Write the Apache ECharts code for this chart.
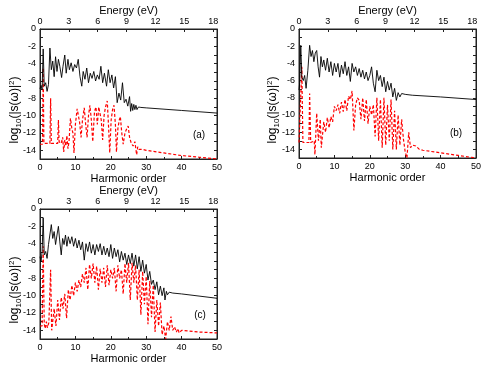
<!DOCTYPE html>
<html><head><meta charset="utf-8">
<script src="https://cdn.jsdelivr.net/npm/echarts@6/dist/echarts.min.js"></script>
<style>html,body{margin:0;padding:0;background:#fff}#c{width:495px;height:380px}</style>
</head><body><div id="c"></div>
<script>
// ---- data: [harmonic order, log10(|s(w)|^2)] ----
const blackA = [[0,-6.9],[0.3,-6.5],[0.6,-7.0],[0.9,-2.3],[1.2,-6.6],[1.6,-6.2],[2.0,-7.2],[2.4,-6.4],[2.8,-2.2],[3.2,-4.7],[3.6,-3.7],[4.0,-5.5],[4.4,-3.2],[4.8,-4.9],[5.2,-3.5],[5.6,-4.3],[6.1,-5.6],[6.5,-4.3],[7.0,-3.0],[7.4,-5.1],[7.9,-3.5],[8.3,-4.7],[8.8,-3.9],[9.3,-4.9],[9.8,-4.1],[10.3,-4.5],[10.8,-3.5],[11.3,-5.5],[11.8,-6.6],[12.2,-4.9],[12.7,-5.8],[13.2,-4.5],[13.7,-6.2],[14.2,-5.1],[14.7,-5.7],[15.2,-4.9],[15.7,-6.0],[16.2,-5.3],[16.7,-5.8],[17.2,-4.3],[17.7,-6.2],[18.2,-5.1],[18.8,-6.6],[19.3,-4.7],[19.8,-6.2],[20.3,-5.3],[20.8,-6.8],[21.3,-5.5],[21.8,-8.5],[22.3,-7.4],[22.8,-8.2],[23.3,-6.2],[23.8,-8.5],[24.3,-8.1],[24.8,-8.9],[25.3,-7.8],[25.6,-9.5],[25.9,-8.6],[26.2,-9.4],[26.5,-8.7],[26.8,-9.3],[27.1,-8.8],[27.4,-9.3],[27.8,-9.0],[28.5,-9.05],[30,-9.1],[40,-9.4],[50,-9.7]];
const redA = [[0,-13.3],[0.7,-13.3],[0.9,-4.5],[1.1,-13.2],[2.8,-13.2],[3.0,-8.0],[3.2,-13.2],[5.0,-13.2],[5.2,-10.5],[5.4,-13.0],[6.0,-13.2],[6.4,-12.5],[6.7,-14.2],[7.0,-12.8],[7.3,-13.5],[7.6,-12.3],[7.9,-13.8],[8.2,-13.0],[8.6,-10.3],[9.0,-11.5],[9.3,-12.0],[9.6,-14.3],[10.0,-11.0],[10.5,-9.2],[10.8,-9.0],[11.2,-10.8],[11.6,-12.5],[12.0,-10.5],[12.5,-9.1],[12.9,-11.0],[13.3,-12.5],[13.7,-10.0],[14.1,-8.8],[14.5,-10.5],[14.9,-13.0],[15.4,-9.5],[15.8,-9.0],[16.2,-11.0],[16.6,-9.0],[16.9,-8.8],[17.3,-10.5],[17.7,-12.8],[18.1,-10.0],[18.5,-9.0],[19.0,-8.3],[19.4,-11.5],[19.7,-14.3],[20.1,-10.5],[20.5,-9.3],[20.9,-8.8],[21.3,-11.0],[21.6,-14.2],[22.0,-11.5],[22.4,-10.5],[22.7,-10.1],[23.1,-12.0],[23.5,-13.3],[24.0,-12.0],[24.5,-11.5],[24.9,-11.2],[25.3,-12.5],[25.8,-13.2],[26.3,-13.5],[26.8,-13.0],[27.0,-12.8],[27.3,-14.5],[27.6,-13.6],[28.0,-13.9],[28.5,-13.7],[29,-13.9],[30,-14.0],[35,-14.3],[40,-14.6],[45,-14.8],[50,-15.0]];

const blackB = [[0,-7.1],[0.2,-6.2],[0.5,-1.9],[0.8,-5.6],[1.2,-6.0],[1.6,-5.4],[2.0,-6.9],[2.5,-4.8],[3.0,-1.9],[3.4,-3.2],[3.8,-2.5],[4.2,-3.8],[4.6,-2.8],[5.0,-2.5],[5.4,-4.4],[5.8,-5.6],[6.2,-3.2],[6.6,-4.4],[7.0,-3.6],[7.5,-4.8],[8.0,-3.4],[8.5,-5.0],[9.0,-3.8],[9.5,-5.4],[10.0,-4.0],[10.5,-5.0],[11.0,-4.0],[11.5,-5.6],[12.0,-4.2],[12.5,-5.2],[13.0,-3.8],[13.5,-5.4],[14.0,-4.4],[14.5,-6.1],[15.0,-4.0],[15.5,-5.0],[16.0,-4.4],[16.5,-5.4],[17.0,-4.6],[17.5,-5.6],[18.0,-4.8],[18.5,-5.8],[19.0,-5.0],[19.5,-6.0],[20.0,-5.4],[20.5,-4.4],[21.0,-6.3],[21.5,-7.3],[22.0,-4.8],[22.5,-6.0],[23.0,-5.4],[23.5,-6.7],[24.0,-5.6],[24.5,-7.3],[25.0,-6.1],[25.5,-7.1],[26.0,-6.3],[26.5,-7.9],[27.0,-6.9],[27.5,-8.3],[28.0,-7.4],[28.5,-7.9],[29.0,-7.5],[29.5,-7.7],[30,-7.6],[32,-7.7],[40,-7.9],[50,-8.2]];
const redB = [[0,-13.2],[0.5,-13.2],[0.8,-4.4],[1.1,-13.2],[2.8,-13.2],[3.0,-7.5],[3.3,-13.2],[4.3,-13.0],[4.5,-14.6],[5.0,-9.8],[5.5,-13.0],[6.0,-10.5],[6.3,-13.8],[7.0,-10.8],[7.5,-12.0],[8.0,-10.3],[8.5,-11.5],[9.0,-10.2],[9.5,-10.8],[10.0,-9.0],[10.5,-9.5],[11.0,-8.8],[11.5,-9.8],[12.0,-8.5],[12.5,-9.6],[13.0,-8.2],[13.5,-9.5],[14.0,-7.8],[14.5,-8.2],[15.0,-7.2],[15.5,-11.8],[16.0,-8.8],[16.5,-8.0],[17.0,-8.3],[17.5,-10.5],[18.0,-8.0],[18.5,-10.7],[19.0,-8.2],[19.5,-11.0],[20.0,-9.0],[20.5,-10.0],[21.0,-8.8],[21.5,-12.5],[22.0,-8.0],[22.5,-13.0],[23.0,-8.2],[23.5,-13.8],[24.0,-8.0],[24.5,-13.5],[25.0,-8.8],[25.5,-13.0],[26.0,-8.2],[26.5,-14.0],[27.0,-9.5],[27.5,-14.0],[28.0,-10.0],[28.5,-13.5],[29.0,-10.5],[29.5,-12.8],[30.0,-14.3],[30.5,-15.0],[31.0,-12.0],[31.5,-13.8],[32.0,-13.5],[33.0,-13.6],[34.0,-14.0],[35.0,-14.1],[40,-14.4],[45,-14.7],[50,-15.0]];

const blackC = [[0,-5.5],[0.3,-6.1],[0.6,-4.9],[0.9,-1.0],[1.2,-5.3],[1.6,-4.9],[2.0,-5.7],[2.4,-4.1],[2.8,-4.0],[3.2,-1.8],[3.6,-3.4],[4.0,-2.6],[4.4,-4.1],[4.8,-3.0],[5.2,-2.0],[5.6,-3.8],[6.0,-5.3],[6.4,-3.4],[6.8,-4.1],[7.2,-3.0],[7.6,-4.3],[8.0,-3.2],[8.5,-4.0],[9.0,-3.2],[9.5,-4.3],[10.0,-3.4],[10.5,-4.5],[11.0,-3.6],[11.5,-4.7],[12.0,-3.8],[12.5,-5.9],[13.0,-4.0],[13.5,-4.9],[14.0,-3.8],[14.5,-5.1],[15.0,-4.1],[15.5,-5.3],[16.0,-4.1],[16.5,-4.9],[17.0,-4.0],[17.5,-5.3],[18.0,-4.3],[18.5,-5.3],[19.0,-4.5],[19.5,-5.5],[20.0,-4.1],[20.5,-5.7],[21.0,-4.5],[21.5,-5.5],[22.0,-4.7],[22.5,-6.1],[23.0,-4.9],[23.5,-5.9],[24.0,-5.1],[24.5,-6.4],[25.0,-5.3],[25.5,-6.3],[26.0,-5.1],[26.5,-6.6],[27.0,-5.3],[27.5,-6.9],[28.0,-5.5],[28.5,-7.2],[29.0,-5.9],[29.5,-7.4],[30.0,-6.4],[30.5,-8.2],[31.0,-7.2],[31.5,-8.7],[32.0,-8.2],[32.5,-9.3],[33.0,-8.4],[33.5,-9.9],[34.0,-8.9],[34.5,-10.0],[35.0,-9.1],[35.3,-10.5],[35.7,-9.5],[36.0,-9.9],[36.5,-9.6],[37.0,-9.7],[37.5,-9.7],[40,-9.8],[50,-10.3]];
const redC = [[0,-13.5],[0.6,-13.5],[0.9,-4.3],[1.2,-13.3],[1.5,-13.8],[1.8,-13.0],[2.1,-13.7],[2.5,-13.1],[3.0,-7.0],[3.3,-14.0],[4.0,-11.5],[4.5,-13.5],[5.0,-10.5],[5.5,-12.8],[6.0,-10.2],[6.5,-11.5],[7.0,-9.8],[7.5,-12.6],[8.0,-9.3],[8.5,-10.5],[9.0,-8.8],[9.5,-10.0],[10.0,-8.5],[10.5,-9.5],[11.0,-8.2],[11.5,-9.0],[12.0,-7.5],[12.5,-8.5],[13.0,-6.8],[13.5,-9.3],[14.0,-6.4],[14.5,-8.0],[15.0,-6.3],[15.5,-8.5],[16.0,-6.6],[16.5,-9.3],[17.0,-6.9],[17.5,-8.5],[18.0,-6.8],[18.5,-9.0],[19.0,-6.5],[19.5,-8.8],[20.0,-7.0],[20.5,-8.0],[21.0,-6.8],[21.5,-9.5],[22.0,-6.5],[22.5,-8.0],[23.0,-7.0],[23.5,-9.8],[24.0,-6.3],[24.5,-8.5],[25.0,-6.2],[25.5,-10.5],[26.0,-6.2],[26.5,-8.5],[27.0,-6.5],[27.5,-10.5],[28.0,-7.0],[28.5,-12.2],[29.0,-7.2],[29.5,-11.0],[30.0,-7.8],[30.5,-13.3],[31.0,-8.3],[31.5,-12.5],[32.0,-8.8],[32.5,-14.2],[33.0,-10.5],[33.5,-13.5],[34.0,-10.8],[34.5,-14.5],[35.0,-13.5],[35.5,-15.0],[36.0,-13.0],[36.5,-14.0],[37.0,-12.4],[37.5,-14.0],[38.0,-13.6],[38.5,-14.2],[39.0,-13.8],[39.3,-14.3],[40,-14.0],[45,-14.2],[50,-14.3]];

const panelLabels = ['(a)', '(b)', '(c)'];
const harmonicTitle = 'Harmonic order';
const energyTitle = 'Energy (eV)';

const FONT = '"Liberation Sans", Arial, sans-serif';
const chart = echarts.init(document.getElementById('c'), null, {renderer: 'canvas'});
const grids = [
  {left: 40, top: 29, width: 177, height: 130},
  {left: 299, top: 29, width: 177, height: 129},
  {left: 40, top: 209, width: 177, height: 130}
];
const axisCol = '#222';
const xAxes = [], yAxes = [], series = [], graphics = [];
const pairs = [[blackA, redA], [blackB, redB], [blackC, redC]];
grids.forEach((g, i) => {
  xAxes.push({
    type: 'value', gridIndex: i, position: 'bottom', min: 0, max: 50, interval: 10,
    name: harmonicTitle, nameLocation: 'middle', nameGap: 14,
    nameTextStyle: {fontSize: 11, fontFamily: FONT, color: '#000'},
    axisLine: {onZero: false, lineStyle: {color: axisCol, width: 1}},
    axisTick: {inside: true, length: 3, lineStyle: {color: axisCol}},
    minorTick: {show: true, splitNumber: 2, length: 2, lineStyle: {color: axisCol}},
    axisLabel: {fontSize: 9, color: '#000', margin: 4, fontFamily: FONT},
    splitLine: {show: false}
  });
  xAxes.push({
    type: 'value', gridIndex: i, position: 'top', min: 0, max: 18.4, interval: 3,
    name: energyTitle, nameLocation: 'middle', nameGap: 13,
    nameTextStyle: {fontSize: 11, fontFamily: FONT, color: '#000'},
    axisLine: {onZero: false, lineStyle: {color: axisCol, width: 1}},
    axisTick: {inside: true, length: 3, lineStyle: {color: axisCol}},
    axisLabel: {fontSize: 9, color: '#000', margin: 3, fontFamily: FONT,
      formatter: v => (Math.abs(v / 3 - Math.round(v / 3)) < 1e-6 ? String(Math.round(v)) : '')},
    splitLine: {show: false}
  });
  yAxes.push({
    type: 'value', gridIndex: i, position: 'left', min: -15, max: 0, interval: 1,
    axisLine: {onZero: false, lineStyle: {color: axisCol, width: 1}},
    axisTick: {inside: true, length: 3, lineStyle: {color: axisCol}},
    axisLabel: {fontSize: 9, color: '#000', margin: 4, fontFamily: FONT,
      formatter: v => (Math.round(v) % 2 === 0 ? String(Math.round(v)) : '')},
    splitLine: {show: false}
  });
  yAxes.push({
    type: 'value', gridIndex: i, position: 'right', min: -15, max: 0, interval: 1,
    axisLine: {onZero: false, lineStyle: {color: axisCol, width: 1}},
    axisTick: {inside: true, length: 3, lineStyle: {color: axisCol}},
    axisLabel: {show: false},
    splitLine: {show: false}
  });
  series.push({
    type: 'line', xAxisIndex: 2 * i, yAxisIndex: 2 * i, data: pairs[i][1],
    showSymbol: false, z: 2,
    lineStyle: {color: '#ff0000', width: 1.2, type: [3, 2]}
  });
  series.push({
    type: 'line', xAxisIndex: 2 * i, yAxisIndex: 2 * i, data: pairs[i][0],
    showSymbol: false, z: 3,
    lineStyle: {color: '#000', width: 0.9}
  });
});
grids.forEach(g => { g.show = true; g.borderColor = axisCol; g.borderWidth = 1; });

const yNamePos = [[15, 110], [273, 110], [15, 290]];
const letterPos = [[199, 135], [456, 133], [200, 315]];
yNamePos.forEach((p, i) => {
  graphics.push({
    type: 'text', x: p[0], y: p[1], rotation: Math.PI / 2,
    style: {
      text: '{a|log}{b|10}{a|(|s(ω)|}{c|2}{a|)}',
      align: 'center', verticalAlign: 'middle', fill: '#000',
      rich: {
        a: {fontSize: 12, fontFamily: FONT, lineHeight: 15, verticalAlign: 'middle', fill: '#000'},
        b: {fontSize: 8, fontFamily: FONT, lineHeight: 8, verticalAlign: 'bottom', fill: '#000'},
        c: {fontSize: 8, fontFamily: FONT, lineHeight: 8, verticalAlign: 'top', fill: '#000'}
      }
    }
  });
  graphics.push({
    type: 'text', x: letterPos[i][0], y: letterPos[i][1],
    style: {text: panelLabels[i], fontSize: 10, fontFamily: FONT, fill: '#000', align: 'center', verticalAlign: 'middle'}
  });
});

chart.setOption({
  animation: false,
  backgroundColor: '#fff',
  grid: grids,
  xAxis: xAxes,
  yAxis: yAxes,
  series: series,
  graphic: graphics
});
</script>
</body></html>
